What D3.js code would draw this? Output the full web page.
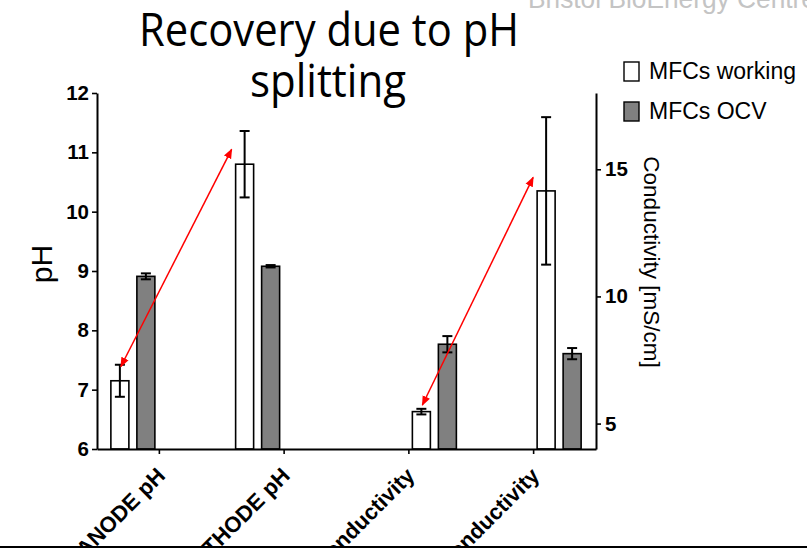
<!DOCTYPE html>
<html>
<head>
<meta charset="utf-8">
<script src="https://cdn.jsdelivr.net/npm/d3@7"></script>
<style>
  body { margin: 0; background: #fff; }
  svg { display: block; }
</style>
</head>
<body>
<svg id="chart" width="807" height="549"></svg>
<script>
// ---- data ----
const categories = ["ANODE pH", "CATHODE pH", "ANODE Conductivity", "CATHODE Conductivity"];
const categoryAxis = ["pH", "pH", "cond", "cond"];   // which y axis each group is read on
const seriesNames = ["MFCs working", "MFCs OCV"];
const workingMean = [7.15, 10.80, 5.47, 14.15];
const workingErr  = [0.27, 0.56, 0.11, 2.90];
const ocvMean     = [8.91, 9.08, 8.12, 7.75];
const ocvErr      = [0.05, 0.02, 0.32, 0.22];
const phTicks   = [6, 7, 8, 9, 10, 11, 12];
const condTicks = [5, 10, 15];
// recovery arrows: [category index, value] at each end
const arrowFrom = [[0, 7.39], [2, 5.73]];
const arrowTo   = [[1, 11.05], [3, 14.68]];

// ---- layout ----
const svg = d3.select("#chart");
const plotL = 97, plotR = 596, plotT = 93, plotB = 449;
const font = "'Liberation Sans', Arial, Helvetica, sans-serif";
const seriesFill = ["#ffffff", "#808080"];
const barW = 18, barStep = 26;

const x = d3.scaleBand().domain(categories).range([plotL, plotR]).padding(0);
const yPH = d3.scaleLinear().domain([6, 12]).range([plotB, plotT]);
const yCond = d3.scaleLinear().domain([4, 18]).range([plotB, plotT]);
const yFor = i => categoryAxis[i] === "pH" ? yPH : yCond;
// pH pairs sit left of their tick, conductivity pairs right of it
const groupLeft = i => x(categories[i]) + x.bandwidth() / 2 + (categoryAxis[i] === "pH" ? -48.5 : 3.5);

// faint header text at top right
svg.append("text").attr("x", 528).attr("y", 8)
  .attr("font-family", font).attr("font-size", 28).attr("fill", "#c4c4c4")
  .attr("textLength", 288).attr("lengthAdjust", "spacingAndGlyphs")
  .text("Bristol BioEnergy Centre");

// title
const title = svg.append("g").attr("font-family", "'Open Sans', 'Noto Sans', sans-serif")
  .attr("font-size", 46).attr("fill", "#000").attr("text-anchor", "middle");
title.append("text").attr("x", 329).attr("y", 46)
  .attr("textLength", 380).attr("lengthAdjust", "spacingAndGlyphs").text("Recovery due to pH");
title.append("text").attr("x", 328).attr("y", 97)
  .attr("textLength", 156).attr("lengthAdjust", "spacingAndGlyphs").text("splitting");

// bars
const barData = [];
categories.forEach((c, i) => {
  [[workingMean, workingErr], [ocvMean, ocvErr]].forEach(([m, e], s) => {
    barData.push({ i, s, v: m[i], e: e[i] });
  });
});

const barsG = svg.append("g");
barsG.selectAll("rect").data(barData).join("rect")
  .attr("x", d => groupLeft(d.i) + d.s * barStep)
  .attr("y", d => yFor(d.i)(d.v))
  .attr("width", barW)
  .attr("height", d => plotB - yFor(d.i)(d.v))
  .attr("fill", d => seriesFill[d.s])
  .attr("stroke", "#000").attr("stroke-width", 1.6);

// error bars
const errG = svg.append("g").attr("stroke", "#000").attr("stroke-width", 2);
barData.forEach(d => {
  const cx = groupLeft(d.i) + d.s * barStep + barW / 2;
  const y = yFor(d.i);
  errG.append("line").attr("x1", cx).attr("x2", cx).attr("y1", y(d.v + d.e)).attr("y2", y(d.v - d.e));
  [d.v + d.e, d.v - d.e].forEach(v => {
    errG.append("line").attr("x1", cx - 5).attr("x2", cx + 5).attr("y1", y(v)).attr("y2", y(v));
  });
});

// axes
function styleAxis(g) {
  g.selectAll("path.domain").attr("stroke", "#000").attr("stroke-width", 2);
  g.selectAll(".tick line").attr("stroke", "#000").attr("stroke-width", 1.6);
  g.selectAll(".tick text").attr("font-family", font).attr("font-weight", "bold")
    .attr("font-size", 20.5).attr("fill", "#000");
}
const axL = svg.append("g").attr("transform", `translate(${plotL},0)`)
  .call(d3.axisLeft(yPH).tickValues(phTicks).tickSize(5).tickSizeOuter(0).tickPadding(3).tickFormat(d3.format("d")));
styleAxis(axL);
const axR = svg.append("g").attr("transform", `translate(${plotR},0)`)
  .call(d3.axisRight(yCond).tickValues(condTicks).tickSize(5).tickSizeOuter(0).tickPadding(4).tickFormat(d3.format("d")));
styleAxis(axR);
const axB = svg.append("g").attr("transform", `translate(0,${plotB})`)
  .call(d3.axisBottom(x).tickSize(5).tickSizeOuter(0));
styleAxis(axB);
axB.selectAll(".tick text")
  .attr("text-anchor", "end").attr("font-size", 22)
  .attr("dy", null).attr("y", null)
  .attr("transform", "translate(7,28) rotate(-45)");

// axis titles
svg.append("text").attr("transform", "translate(52,264) rotate(-90)")
  .attr("text-anchor", "middle").attr("font-family", font).attr("font-size", 30).text("pH");
svg.append("text").attr("transform", "translate(644,262) rotate(90)")
  .attr("text-anchor", "middle").attr("font-family", font).attr("font-size", 22.5)
  .text("Conductivity [mS/cm]");

// legend
const leg = svg.append("g");
seriesNames.forEach((n, s) => {
  const yy = 62 + s * 40;
  leg.append("rect").attr("x", 624).attr("y", yy).attr("width", 15).attr("height", 19)
    .attr("fill", seriesFill[s]).attr("stroke", "#000").attr("stroke-width", 1.4);
  leg.append("text").attr("x", 649).attr("y", yy + 17).attr("font-family", font)
    .attr("font-size", 23).attr("fill", "#000").text(n);
});

// red double-headed arrows
const defs = svg.append("defs");
["start", "end"].forEach(k => {
  defs.append("marker").attr("id", "ah-" + k)
    .attr("viewBox", "0 0 10 10").attr("refX", 9).attr("refY", 5)
    .attr("markerWidth", 10).attr("markerHeight", 10).attr("markerUnits", "userSpaceOnUse")
    .attr("orient", k === "start" ? "auto-start-reverse" : "auto")
    .append("path").attr("d", "M0,1 L10,5 L0,9 Z").attr("fill", "#ff0000");
});
arrowFrom.forEach((a, k) => {
  const b = arrowTo[k];
  const x1 = groupLeft(a[0]) + barW / 2 + 1;
  const y1 = yFor(a[0])(a[1]);
  const x2 = groupLeft(b[0]) - 4;
  const y2 = yFor(b[0])(b[1]);
  svg.append("line").attr("x1", x1).attr("y1", y1).attr("x2", x2).attr("y2", y2)
    .attr("stroke", "#ff0000").attr("stroke-width", 1.5)
    .attr("marker-start", "url(#ah-start)").attr("marker-end", "url(#ah-end)");
});

// bottom border
svg.append("rect").attr("x", 0).attr("y", 546).attr("width", 807).attr("height", 3).attr("fill", "#fff");
svg.append("line").attr("x1", 0).attr("x2", 807).attr("y1", 547).attr("y2", 547)
  .attr("stroke", "#000").attr("stroke-width", 2);
</script>
</body>
</html>
